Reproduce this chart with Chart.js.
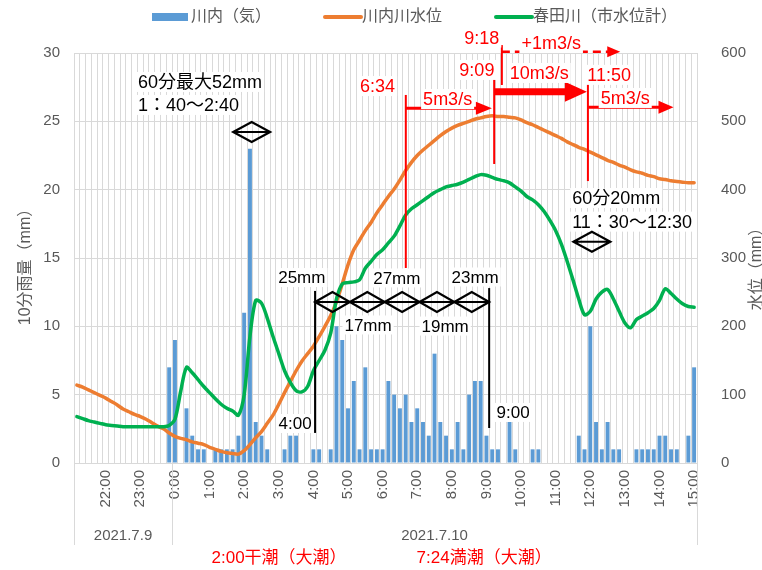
<!DOCTYPE html>
<html><head><meta charset="utf-8">
<script src="https://cdn.jsdelivr.net/npm/chart.js@4.4.1/dist/chart.umd.min.js"></script>
<style>html,body{margin:0;padding:0;background:#fff}#wrap{width:762px;height:570px}</style>
</head><body><div id="wrap"><canvas id="c" width="762" height="570"></canvas></div>
<script>
// categories: 10-minute steps from 2021.7.9 21:10 to 2021.7.10 15:00
const times = [];
for (let m = 21 * 60 + 10; m <= 39 * 60; m += 10) {
  const mm = m % 1440;
  times.push(Math.floor(mm / 60) + ':' + String(mm % 60).padStart(2, '0'));
}
const dateLabels = ['2021.7.9', '2021.7.10'];
const dateStarts = ['21:10', '0:00'];
const tideLabels = ['2:00干潮（大潮）', '7:24満潮（大潮）'];

// 川内（気） 10-min rainfall (mm)
const rain = [
  0,0,0,0,0,0,0,0,0,0,0,0,0,0,0,0,
  7,9,0,4,2,1,1,0,1,1,1,1,2,11,23,3,2,1,0,0,1,2,2,0,0,1,1,0,1,
  10,9,4,6,1,7,1,1,1,6,5,4,5,3,4,3,2,8,3,2,1,3,1,5,6,6,2,1,1,0,3,1,0,0,1,1,
  0,0,0,0,0,0,2,1,10,3,1,3,1,1,0,0,1,1,1,1,2,2,1,1,0,2,7
];
// 川内川水位 (right axis)
const level = [
  114,111,107,103,99,95,90,85,79,75,71,68,64,59,54,50,44,39,36,34,31,29,27,23,20,17,15,14,13,18,
  27,37,46,58,70,86,103,119,135,149,160,171,185,200,216,236,262,290,312,326,340,352,366,378,390,401,414,428,440,450,
  458,465,472,479,485,490,494,497,500,503,505,507,508,507,507,506,505,502,498,495,491,487,483,479,475,470,466,462,459,455,
  451,447,443,440,436,433,429,426,424,421,419,416,415,413,412,411,410,410
];
// 春田川（市水位計） (right axis)
const haruta = [
  68,65,62,60,58,56,55,54,53,53,53,53,53,53,53,53,55,64,105,140,132,122,112,103,94,86,80,76,70,100,
  185,238,234,212,185,160,135,118,106,104,112,135,150,165,190,240,262,264,265,268,285,295,305,312,322,332,347,363,372,378,
  384,390,396,400,404,406,408,411,415,419,422,421,418,415,413,410,404,398,390,385,378,368,355,340,320,295,268,240,217,222,
  240,250,254,240,222,205,198,210,215,220,226,238,255,248,240,233,229,228
];

const FONT = "'Liberation Sans','Noto Sans CJK JP',sans-serif";
const GRAY = '#595959';

// annotation plugin (positions in category-index / rain-value units)
const annot = {
  id: 'annot',
  afterDatasetsDraw(chart) {
    const ctx = chart.ctx, xs = chart.scales.x, ys = chart.scales.y;
    const x0 = xs.getPixelForValue(0), step = xs.getPixelForValue(1) - x0;
    const X = i => x0 + i * step;
    const Y = v => ys.getPixelForValue(v);
    ctx.save();
    const text = (s, i, v, opt = {}) => {
      ctx.font = (opt.size || 17) + 'px ' + FONT;
      ctx.textBaseline = 'middle';
      ctx.textAlign = opt.align || 'center';
      const w = ctx.measureText(s).width, h = (opt.size || 17) + 2;
      let lx = X(i);
      if (ctx.textAlign === 'center') lx -= w / 2;
      else if (ctx.textAlign === 'right') lx -= w;
      ctx.fillStyle = '#fff';
      ctx.fillRect(lx - 2, Y(v) - h / 2, w + 4, h);
      ctx.fillStyle = opt.color || '#000';
      ctx.fillText(s, X(i), Y(v) + 1);
    };
    const line = (i1, v1, i2, v2, color, w, dash) => {
      ctx.beginPath();
      ctx.strokeStyle = color; ctx.lineWidth = w;
      ctx.setLineDash(dash || []);
      ctx.moveTo(X(i1), Y(v1)); ctx.lineTo(X(i2), Y(v2)); ctx.stroke();
      ctx.setLineDash([]);
    };
    const diamond = (ic, v, hwIdx, hh) => {
      const cx = X(ic), cy = Y(v), hw = hwIdx * step;
      ctx.beginPath();
      ctx.strokeStyle = '#000'; ctx.lineWidth = 2.2; ctx.lineJoin = 'miter';
      ctx.moveTo(cx - hw, cy); ctx.lineTo(cx, cy - hh); ctx.lineTo(cx + hw, cy); ctx.lineTo(cx, cy + hh); ctx.closePath();
      ctx.moveTo(cx - hw, cy); ctx.lineTo(cx + hw, cy);
      ctx.stroke();
    };
    const arrow = (i1, i2, v, color, w, headL, headH, dash) => {
      const y = Y(v), xa = X(i1), xb = X(i2);
      ctx.beginPath();
      ctx.strokeStyle = color; ctx.lineWidth = w; ctx.setLineDash(dash || []);
      ctx.moveTo(xa, y); ctx.lineTo(xb - headL + 1, y); ctx.stroke();
      ctx.setLineDash([]);
      ctx.beginPath(); ctx.fillStyle = color;
      ctx.moveTo(xb, y); ctx.lineTo(xb - headL, y - headH); ctx.lineTo(xb - headL, y + headH); ctx.closePath(); ctx.fill();
    };

    // 60-min maximum box
    text('60分最大52mm', 10.6, 27.88, { align: 'left', size: 18 });
    text('1：40〜2:40', 10.6, 26.2, { align: 'left', size: 18 });
    diamond(30.3, 24.22, 3.2, 10);

    // 4:00 - 9:00 hourly totals
    line(41.29, 12.59, 41.29, 2.2, '#000', 2);
    line(71.47, 12.8, 71.47, 2.56, '#000', 2);
    for (let k = 0; k < 5; k++) {
      const w = (71.47 - 41.29) / 5;
      diamond(41.29 + w * (k + 0.5), 11.78, w / 2, 10);
    }
    text('25mm', 38.99, 13.57);
    text('27mm', 55.46, 13.54);
    text('23mm', 69.04, 13.61);
    text('17mm', 50.48, 10.10);
    text('19mm', 63.84, 10.02);
    text('4:00', 37.82, 2.89);
    text('9:00', 75.63, 3.7);

    // 11:30-12:30
    text('60分20mm', 85.86, 19.39, { align: 'left', size: 18 });
    text('11：30〜12:30', 85.86, 17.66, { align: 'left', size: 18 });
    diamond(89.28, 16.19, 3.2, 10);

    // red discharge annotations
    const R = '#FF0000';
    line(57.02, 26.93, 57.02, 14.27, R, 2);
    line(72.34, 28.17, 72.34, 21.88, R, 2);
    line(73.67, 30.58, 73.67, 27.66, R, 2);
    line(88.59, 27.88, 88.59, 20.63, R, 2);
    arrow(57.02, 71.94, 25.95, R, 3, 16, 6.5);
    arrow(73.67, 94.19, 30.1, R, 2.5, 13, 5.5, [8, 5]);
    arrow(72.34, 88.41, 27.17, R, 7, 22, 10);
    arrow(88.59, 103.43, 26.03, R, 3, 15, 6.5);
    text('6:34', 52.13, 27.58, { color: R, size: 18 });
    text('5m3/s', 64.27, 26.63, { color: R, size: 18 });
    text('9:09', 69.34, 28.76, { color: R, size: 18 });
    text('9:18', 70.2, 31.13, { color: R, size: 18 });
    text('+1m3/s', 82.22, 30.73, { color: R, size: 18 });
    text('10m3/s', 80.14, 28.54, { color: R, size: 18 });
    text('11:50', 92.28, 28.4, { color: R, size: 18 });
    text('5m3/s', 95.06, 26.71, { color: R, size: 18 });
    ctx.restore();
  },
  afterDraw(chart) {
    const ctx = chart.ctx, xs = chart.scales.x, area = chart.chartArea;
    const x0 = xs.getPixelForValue(0), step = xs.getPixelForValue(1) - x0;
    const X = i => x0 + i * step;
    ctx.save();
    // second level category axis (dates)
    const bounds = dateStarts.map(s => times.indexOf(s) - 0.5).concat([times.length - 0.5]);
    ctx.strokeStyle = '#D9D9D9'; ctx.lineWidth = 1;
    bounds.forEach(b => {
      const x = Math.round(X(b)) + 0.5;
      ctx.beginPath(); ctx.moveTo(x, area.bottom); ctx.lineTo(x, area.bottom + 82); ctx.stroke();
    });
    ctx.fillStyle = GRAY; ctx.font = '15px ' + FONT; ctx.textAlign = 'center'; ctx.textBaseline = 'middle';
    dateLabels.forEach((d, k) => ctx.fillText(d, (X(bounds[k]) + X(bounds[k + 1])) / 2, area.bottom + 73));
    // tide notes
    ctx.fillStyle = '#FF0000'; ctx.font = '17px ' + FONT;
    ctx.fillText(tideLabels[0], X(35.05), area.bottom + 95);
    ctx.fillText(tideLabels[1], X(70.6), area.bottom + 95);
    // axis titles
    ctx.fillStyle = GRAY; ctx.font = '16px ' + FONT;
    ctx.save(); ctx.translate(26, (area.top + area.bottom) / 2 + 5); ctx.rotate(-Math.PI / 2);
    ctx.fillText('10分雨量（mm）', 0, 0); ctx.restore();
    ctx.save(); ctx.translate(757, (area.top + area.bottom) / 2 + 7); ctx.rotate(-Math.PI / 2);
    ctx.fillText('水位（mm）', 0, 0); ctx.restore();
    // legend
    const lx = [152, 323, 494];
    ctx.font = '16px ' + FONT; ctx.textAlign = 'left'; ctx.fillStyle = GRAY;
    chart.data.datasets.forEach((ds, k) => {
      if (ds.type === 'bar') {
        ctx.fillStyle = ds.backgroundColor; ctx.fillRect(lx[k], 13, 36, 8);
      } else {
        ctx.strokeStyle = ds.borderColor; ctx.lineWidth = 4; ctx.lineCap = 'round';
        ctx.beginPath(); ctx.moveTo(lx[k] + 2, 17); ctx.lineTo(lx[k] + 38, 17); ctx.stroke();
      }
      ctx.fillStyle = GRAY;
      ctx.fillText(ds.label, lx[k] + 39, 17);
    });
    ctx.restore();
  }
};

new Chart(document.getElementById('c'), {
  type: 'bar',
  data: {
    labels: times,
    datasets: [
      { type: 'bar', label: '川内（気）', data: rain, backgroundColor: '#5B9BD5', yAxisID: 'y', order: 3,
        barPercentage: 0.68, categoryPercentage: 1 },
      { type: 'line', label: '川内川水位', data: level, borderColor: '#ED7D31', borderWidth: 3.5, pointRadius: 0,
        yAxisID: 'y1', order: 2, tension: 0.3, borderCapStyle: 'round', borderJoinStyle: 'round' },
      { type: 'line', label: '春田川（市水位計）', data: haruta, borderColor: '#00B050', borderWidth: 3.5, pointRadius: 0,
        yAxisID: 'y1', order: 1, tension: 0.3, borderCapStyle: 'round', borderJoinStyle: 'round' }
    ]
  },
  options: {
    responsive: false, animation: false, devicePixelRatio: 1,
    layout: { padding: { top: 53, left: 0, right: 0, bottom: 0 } },
    plugins: { legend: { display: false }, tooltip: { enabled: false } },
    scales: {
      x: {
        offset: true,
        grid: { offset: true, color: '#D9D9D9', drawTicks: false },
        border: { color: '#D9D9D9' },
        ticks: { autoSkip: false, maxRotation: 90, minRotation: 90, padding: 7, color: GRAY,
          font: { size: 15, family: FONT },
          callback: (v, i) => times[i].endsWith(':00') ? times[i] : '' },
        afterFit: s => { s.height = 107; }
      },
      y: {
        position: 'left', min: 0, max: 30,
        ticks: { stepSize: 5, color: GRAY, padding: 14, font: { size: 15, family: FONT } },
        grid: { color: '#D9D9D9', drawTicks: false },
        border: { display: false },
        afterFit: s => { s.width = 74; }
      },
      y1: {
        position: 'right', min: 0, max: 600,
        ticks: { stepSize: 100, color: GRAY, padding: 16, font: { size: 15, family: FONT } },
        grid: { display: false },
        border: { display: false },
        afterFit: s => { s.width = 65; }
      }
    }
  },
  plugins: [annot]
});
</script>
</body></html>
